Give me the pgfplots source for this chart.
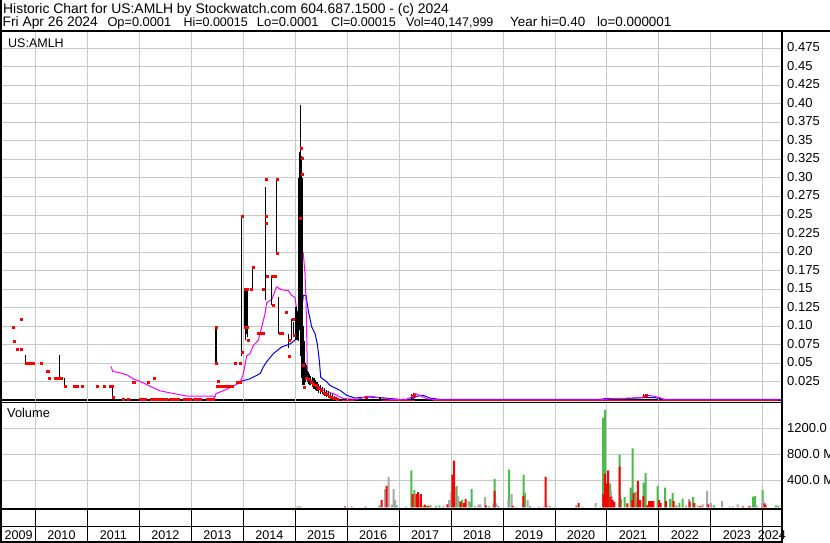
\documentclass[border=0pt]{standalone}
\usepackage{pgfplots}
\pgfplotsset{compat=1.18}
\usepackage{fontspec}
\setmainfont{Liberation Sans}
\definecolor{gridc}{RGB}{200,200,200}
\definecolor{volgreen}{RGB}{76,187,76}
\definecolor{volgray}{RGB}{168,168,168}
\definecolor{mapink}{RGB}{255,0,255}
\definecolor{mablue}{RGB}{0,0,255}
\newcommand{\tf}{\fontsize{13}{15}\selectfont}
\newcommand{\fs}[1]{\fontsize{#1}{16}\selectfont}
\begin{document}
\begin{tikzpicture}[x=1pt,y=1pt]
\useasboundingbox (0,0) rectangle (830,543);
\fill[white] (0,0) rectangle (830,543);
% price panel bottom frame
\draw[line width=1.2pt] (0,143) -- (781,143);
% ---------------- price panel ----------------
\begin{axis}[at={(2pt,141.8pt)}, anchor=south west, scale only axis,
  width=779pt, height=369.7pt,
  xmin=2009.355, xmax=2024.35, ymin=-0.0012, ymax=0.4977,
  axis line style={draw=none},
  xtick={2010,2011,2012,2013,2014,2015,2016,2017,2018,2019,2020,2021,2022,2023,2024},
  xticklabels={},
  ytick={0.025,0.05,0.075,0.1,0.125,0.15,0.175,0.2,0.225,0.25,0.275,0.3,0.325,0.35,0.375,0.4,0.425,0.45,0.475},
  yticklabels={0.025,0.05,0.075,0.10,0.125,0.15,0.175,0.20,0.225,0.25,0.275,0.30,0.325,0.35,0.375,0.40,0.425,0.45,0.475},
  yticklabel pos=right,
  major tick length=0pt,
  grid=major, major grid style={gridc, line width=1pt},
  yticklabel style={anchor=west, inner sep=0pt, xshift=6pt, yshift=1pt, font=\tf},
  unbounded coords=jump,
]
% moving average (long) blue
\addplot[mablue, line width=1pt] coordinates {
(2013.950,0.0256) (2014.129,0.029) (2014.322,0.036) (2014.385,0.045) (2014.450,0.052)
(2014.578,0.063) (2014.739,0.072) (2014.899,0.076) (2014.995,0.081) (2015.091,0.099)
(2015.155,0.1415) (2015.207,0.1415) (2015.251,0.121) (2015.317,0.099) (2015.380,0.090)
(2015.424,0.076) (2015.463,0.054) (2015.490,0.031) (2015.605,0.025) (2015.669,0.020)
(2015.861,0.0135) (2015.990,0.0067) (2016.150,0.003) (2016.375,0.0045) (2016.631,0.0036)
(2017.016,0.0012) (2017.242,0.0015) (2017.338,0.0054) (2017.465,0.0067) (2017.594,0.003)
(2017.786,0.0012) (2020.866,0.0012) (2020.962,0.0023) (2021.347,0.0023) (2021.733,0.0036)
(2021.925,0.0036) (2022.117,0.0012) (2024.35,0.0012)
};
% moving average (short) pink
\addplot[mapink, line width=1pt] coordinates {
(2011.453,0.0458) (2011.486,0.039) (2011.627,0.037) (2011.756,0.0345) (2011.883,0.029)
(2012.075,0.0235) (2012.204,0.019) (2012.397,0.0128) (2012.647,0.0093) (2012.911,0.0057)
(2013.167,0.0057) (2013.417,0.0058) (2013.455,0.0039) (2013.474,0.009) (2013.609,0.0128)
(2013.777,0.018) (2013.936,0.024) (2013.994,0.034) (2014.066,0.060) (2014.129,0.063)
(2014.193,0.074) (2014.289,0.081) (2014.354,0.099) (2014.418,0.117) (2014.450,0.132)
(2014.547,0.136) (2014.643,0.153) (2014.739,0.149) (2014.866,0.148) (2014.932,0.1415)
(2014.995,0.139) (2015.039,0.117) (2015.072,0.117) (2015.124,0.204) (2015.155,0.198)
(2015.188,0.171) (2015.207,0.135) (2015.220,0.090) (2015.232,0.040) (2015.251,0.031)
(2015.347,0.025) (2015.476,0.018) (2015.540,0.0135) (2015.732,0.009) (2015.925,0.0023)
(2016.183,0.0014) (2016.310,0.0036) (2016.439,0.0054) (2016.631,0.0036) (2016.824,0.0014)
(2017.113,0.0006) (2017.242,0.0045) (2017.305,0.009) (2017.401,0.0067) (2017.530,0.002)
(2017.786,0.0006) (2020.866,0.0006) (2020.962,0.0015) (2021.251,0.0025) (2021.636,0.0035)
(2021.790,0.0065) (2021.867,0.006) (2022.021,0.0035) (2022.117,0.0006) (2024.35,0.0006)
};
% high-low bars
\addplot[black, line width=1.3pt] coordinates {
(2009.804,0.0495) (2009.804,0.0606) (2009.804,nan)
(2010.458,0.030) (2010.458,0.0606) (2010.458,nan)
(2010.554,0.019) (2010.554,0.030) (2010.554,nan)
(2011.486,0.0045) (2011.486,0.019) (2011.486,nan)
(2013.474,0.0495) (2013.474,0.099) (2013.474,nan)
(2013.962,0.060) (2013.962,0.248) (2013.962,nan)
(2014.033,0.099) (2014.033,0.1496) (2014.033,nan)
(2014.045,0.081) (2014.045,0.1496) (2014.045,nan)
(2014.058,0.090) (2014.058,0.1496) (2014.058,nan)
(2014.077,0.085) (2014.077,0.1496) (2014.077,nan)
(2014.181,0.15) (2014.181,0.18) (2014.181,nan)
(2014.431,0.135) (2014.431,0.288) (2014.431,nan)
(2014.547,0.129) (2014.547,0.168) (2014.547,nan)
(2014.643,0.199) (2014.643,0.298) (2014.643,nan)
(2014.681,0.090) (2014.681,0.139) (2014.681,nan)
(2014.866,0.070) (2014.866,0.090) (2014.866,nan)
(2014.930,0.081) (2014.930,0.110) (2014.930,nan)
(2014.962,0.085) (2014.962,0.105) (2014.962,nan)
(2015.014,0.081) (2015.014,0.126) (2015.014,nan)
(2015.040,0.081) (2015.040,0.120) (2015.040,nan)
(2015.059,0.080) (2015.059,0.280) (2015.059,nan)
(2015.066,0.100) (2015.066,0.265) (2015.066,nan)
(2015.072,0.095) (2015.072,0.300) (2015.072,nan)
(2015.085,0.120) (2015.085,0.335) (2015.085,nan)
(2015.097,0.110) (2015.097,0.399) (2015.097,nan)
(2015.105,0.100) (2015.105,0.340) (2015.105,nan)
(2015.111,0.060) (2015.111,0.330) (2015.111,nan)
(2015.124,0.030) (2015.124,0.310) (2015.124,nan)
(2015.136,0.020) (2015.136,0.300) (2015.136,nan)
(2015.149,0.020) (2015.149,0.100) (2015.149,nan)
(2015.162,0.030) (2015.162,0.080) (2015.162,nan)
(2015.175,0.020) (2015.175,0.080) (2015.175,nan)
(2015.188,0.025) (2015.188,0.050) (2015.188,nan)
(2015.200,0.025) (2015.200,0.045) (2015.200,nan)
(2015.220,0.028) (2015.220,0.048) (2015.220,nan)
(2015.240,0.025) (2015.240,0.040) (2015.240,nan)
(2015.260,0.022) (2015.260,0.038) (2015.260,nan)
(2015.280,0.020) (2015.280,0.035) (2015.280,nan)
(2015.300,0.020) (2015.300,0.033) (2015.300,nan)
(2015.330,0.018) (2015.330,0.032) (2015.330,nan)
(2015.360,0.015) (2015.360,0.030) (2015.360,nan)
(2015.390,0.014) (2015.390,0.028) (2015.390,nan)
(2015.420,0.012) (2015.420,0.025) (2015.420,nan)
(2015.450,0.010) (2015.450,0.022) (2015.450,nan)
(2015.480,0.009) (2015.480,0.020) (2015.480,nan)
(2015.520,0.008) (2015.520,0.018) (2015.520,nan)
(2015.560,0.006) (2015.560,0.016) (2015.560,nan)
(2015.600,0.005) (2015.600,0.014) (2015.600,nan)
(2015.640,0.004) (2015.640,0.012) (2015.640,nan)
(2015.680,0.003) (2015.680,0.010) (2015.680,nan)
(2015.720,0.002) (2015.720,0.008) (2015.720,nan)
(2015.760,0.001) (2015.760,0.006) (2015.760,nan)
(2015.800,0.001) (2015.800,0.004) (2015.800,nan)
(2016.375,0.003) (2016.375,0.006) (2016.375,nan)
(2016.630,0.002) (2016.630,0.005) (2016.630,nan)
(2017.240,0.002) (2017.240,0.008) (2017.240,nan)
(2017.270,0.003) (2017.270,0.010) (2017.270,nan)
(2017.300,0.004) (2017.300,0.009) (2017.300,nan)
(2021.700,0.003) (2021.700,0.008) (2021.700,nan)
(2021.740,0.004) (2021.740,0.0085) (2021.740,nan)
};
% closes near zero
\addplot[red, line width=1.5pt] coordinates {
(2015.90,0) (2016.15,0) (2016.15,nan) (2016.67,0) (2017.30,0) (2017.30,nan) (2017.65,0) (2024.30,0)
};
% closes (red marks)
\addplot[only marks, mark=square*, mark size=1pt, red, mark options={draw=none, fill=red}] coordinates {
(2009.561,0.099) (2009.721,0.109) (2009.586,0.080) (2009.657,0.069) (2009.734,0.069)
(2009.830,0.0495) (2009.856,0.0495) (2009.894,0.0495) (2009.952,0.0495) (2010.119,0.0495)
(2010.221,0.0395) (2010.240,0.0395) (2010.260,0.030) (2010.375,0.030) (2010.414,0.030)
(2010.452,0.030) (2010.490,0.030) (2010.568,0.019) (2010.741,0.019) (2010.799,0.019)
(2010.895,0.019) (2011.178,0.019) (2011.319,0.019) (2011.434,0.019) (2011.453,0.019)
(2011.472,0.019) (2011.492,0.0045) (2011.679,0.001) (2011.781,0.001) (2011.883,0.025)
(2011.896,0.025) (2012.160,0.025) (2012.281,0.030)
(2012.01,0.001) (2012.07,0.001) (2012.12,0.001) (2012.22,0.001) (2012.24,0.001) (2012.30,0.001)
(2012.34,0.001) (2012.38,0.001) (2012.42,0.001) (2012.48,0.001) (2012.51,0.001) (2012.59,0.001)
(2012.65,0.001) (2012.70,0.001) (2012.74,0.001) (2012.86,0.001) (2012.92,0.001) (2012.97,0.001)
(2013.05,0.001) (2013.11,0.001) (2013.17,0.001) (2013.30,0.001) (2013.36,0.001) (2013.40,0.001)
(2013.42,0.001)
(2013.474,0.099) (2013.474,0.0495) (2013.526,0.0256)
(2013.49,0.019) (2013.53,0.019) (2013.57,0.019) (2013.61,0.019) (2013.65,0.019) (2013.70,0.019)
(2013.74,0.019) (2013.78,0.019)
(2013.840,0.0495) (2013.936,0.0495) (2013.88,0.025) (2013.92,0.025) (2013.94,0.025)
(2013.970,0.248) (2013.981,0.065) (2014.033,0.1496) (2014.084,0.1496) (2014.148,0.1496)
(2014.033,0.099) (2014.084,0.099) (2014.097,0.081) (2014.181,0.18)
(2014.283,0.090) (2014.30,0.090) (2014.33,0.090) (2014.379,0.090) (2014.385,0.1496)
(2014.437,0.298) (2014.431,0.248) (2014.450,0.239) (2014.469,0.168) (2014.547,0.168)
(2014.610,0.168) (2014.566,0.129) (2014.643,0.298) (2014.643,0.199) (2014.707,0.090)
(2014.739,0.090) (2014.835,0.119) (2014.88,0.081) (2014.88,0.059) (2014.962,0.110)
(2014.989,0.088) (2015.09,0.246) (2015.11,0.34) (2015.124,0.327) (2015.130,0.305)
(2015.155,0.048) (2015.17,0.018) (2015.21,0.030) (2015.25,0.028) (2015.3,0.025)
(2015.35,0.022) (2015.4,0.02) (2015.45,0.016) (2015.5,0.013) (2015.55,0.010) (2015.6,0.008)
(2015.65,0.006) (2015.7,0.004) (2015.75,0.003) (2015.8,0.002)
(2016.37,0.004) (2017.25,0.006) (2017.29,0.007) (2021.72,0.006) (2021.75,0.007)
};
\end{axis}
% ---------------- volume panel ----------------
\begin{axis}[at={(2pt,34.7pt)}, anchor=south west, scale only axis,
  width=779pt, height=105.6pt,
  xmin=2009.355, xmax=2024.35, ymin=-15, ymax=1585,
  axis line style={draw=none},
  xtick={2010,2011,2012,2013,2014,2015,2016,2017,2018,2019,2020,2021,2022,2023,2024},
  xticklabels={},
  ytick={400,800,1200},
  yticklabels={400.0 M,800.0 M,1200.0 M},
  yticklabel pos=right,
  major tick length=0pt,
  grid=major, major grid style={gridc, line width=1pt},
  yticklabel style={anchor=west, inner sep=0pt, xshift=6pt, yshift=0.5pt, font=\tf},
]
\addplot[ybar, bar width=2pt, bar shift=0pt, fill=volgreen, draw=none] coordinates {
(2015.05,15) (2016.087,15) (2016.618,30) (2016.953,30) (2017.234,558) (2017.292,262)
(2017.465,30) (2017.530,20) (2017.607,30) (2017.709,20) (2017.773,25) (2018.108,323)
(2018.166,92) (2018.210,108) (2018.370,80) (2018.396,277) (2018.839,430) (2019.115,570)
(2019.397,492) (2019.422,215) (2019.519,20) (2020.410,30) (2020.924,1354) (2020.962,1477)
(2021.033,30) (2021.059,364) (2021.245,800) (2021.270,123) (2021.342,154) (2021.457,297)
(2021.495,892) (2021.553,232) (2021.578,100) (2021.707,374) (2021.746,523) (2021.977,323)
(2022.117,300) (2022.214,123) (2022.266,215) (2022.335,30) (2022.393,62) (2022.458,130)
(2022.656,154) (2023.060,30) (2023.812,160) (2023.850,170) (2023.998,266) (2024.254,30)
(2024.306,20)
};
\addplot[ybar, bar width=2pt, bar shift=0pt, fill=volgray, draw=none] coordinates {
(2016.728,277) (2016.799,461) (2016.862,40) (2016.895,277) (2016.920,108) (2017.132,15)
(2017.376,100) (2017.850,20) (2017.960,108) (2018.004,231) (2018.075,300) (2018.133,170)
(2018.339,92) (2018.460,20) (2018.524,40) (2018.562,45) (2018.653,154) (2018.730,20)
(2018.812,60) (2018.870,60) (2018.916,20) (2019.101,108) (2019.166,200) (2019.243,10)
(2019.474,108) (2019.692,15) (2019.769,10) (2019.852,30) (2019.904,20) (2020.533,10)
(2020.783,62) (2020.866,10) (2021.078,240) (2021.091,170) (2022.522,30) (2022.579,123)
(2022.747,30) (2022.843,45) (2022.926,250) (2023.003,62) (2023.215,92) (2023.363,15)
(2023.427,15) (2023.517,45) (2023.754,20) (2023.869,30) (2023.902,15) (2023.985,62)
(2024.010,108)
};
\addplot[ybar, bar width=2pt, bar shift=0pt, fill=red, draw=none] coordinates {
(2015.10,10) (2015.958,15) (2016.356,10) (2016.664,108) (2016.760,323) (2017.261,200)
(2017.330,200) (2017.363,230) (2017.420,200) (2017.498,40) (2017.561,25) (2017.927,45)
(2018.023,497) (2018.056,708) (2018.185,77) (2018.248,62) (2018.281,123) (2018.672,30)
(2018.839,250) (2019.185,20) (2019.390,170) (2019.821,461) (2020.456,62) (2020.930,200)
(2020.962,508) (2020.995,364) (2021.020,558) (2021.072,160) (2021.111,108) (2021.142,80)
(2021.245,620) (2021.392,60) (2021.488,110) (2021.515,215) (2021.597,400) (2021.636,108)
(2021.700,170) (2021.771,30) (2021.810,92) (2021.848,92) (2021.893,92) (2022.002,108)
(2022.035,62) (2022.136,92) (2022.285,92) (2022.593,90) (2022.681,62) (2022.797,20)
(2022.951,45) (2023.619,15) (2023.735,15) (2024.036,60) (2024.055,30)
};
\end{axis}
% ---------------- frames ----------------
\draw[line width=2pt] (0,512.2) -- (830,512.2);
\draw[line width=1.6pt] (0.8,0) -- (0.8,543);
\draw[line width=1.8pt] (781.7,0) -- (781.7,512.2);
\draw[line width=1.2pt] (0,140.6) -- (781,140.6);
\draw[line width=1.8pt] (0,33.8) -- (781,33.8);
\draw[line width=1.3pt] (0,16.7) -- (781,16.7);
\draw[line width=1.6pt] (0,1) -- (781,1);
\foreach \k in {0,...,14} { \draw[line width=1pt] ({35.5+51.95*\k},1) -- ({35.5+51.95*\k},33.8); }
% year labels
\foreach \yr/\xc in {2009/18.7,2010/61.5,2011/113.4,2012/165.4,2013/217.3,2014/269.3,2015/321.2,2016/373.2,2017/425.1,2018/477.1,2019/529.0,2020/581.0,2021/632.9,2022/684.9,2023/736.8,2024/771.9}
  { \node[anchor=base, inner sep=0pt, font=\fontsize{12.6}{15}\selectfont] at (\xc,3.5) {\yr}; }
% titles
\node[anchor=base west, inner sep=0pt, font=\fs{13.9}] at (3,529.7) {Historic Chart for US:AMLH by Stockwatch.com 604.687.1500 - (c) 2024};
\node[anchor=base west, inner sep=0pt, font=\fs{13.8}] at (2.5,516.8) {Fri Apr 26 2024};
\node[anchor=base west, inner sep=0pt, font=\fs{12.8}] at (107.3,516.8) {Op=0.0001};
\node[anchor=base west, inner sep=0pt, font=\fs{12.5}] at (183.3,516.8) {Hi=0.00015};
\node[anchor=base west, inner sep=0pt, font=\fs{13}] at (256.7,516.8) {Lo=0.0001};
\node[anchor=base west, inner sep=0pt, font=\fs{12.6}] at (331,516.8) {Cl=0.00015};
\node[anchor=base west, inner sep=0pt, font=\fs{12.5}] at (406,516.8) {Vol=40,147,999};
\node[anchor=base west, inner sep=0pt, font=\fs{13.4}] at (510,516.8) {Year hi=0.40};
\node[anchor=base west, inner sep=0pt, font=\fs{13.4}] at (597,516.8) {lo=0.000001};
\node[anchor=base west, inner sep=0pt, font=\fs{12.5}] at (8,495.5) {US:AMLH};
\node[anchor=base west, inner sep=0pt, font=\fs{12.8}] at (7,125.5) {Volume};
\end{tikzpicture}
\end{document}
